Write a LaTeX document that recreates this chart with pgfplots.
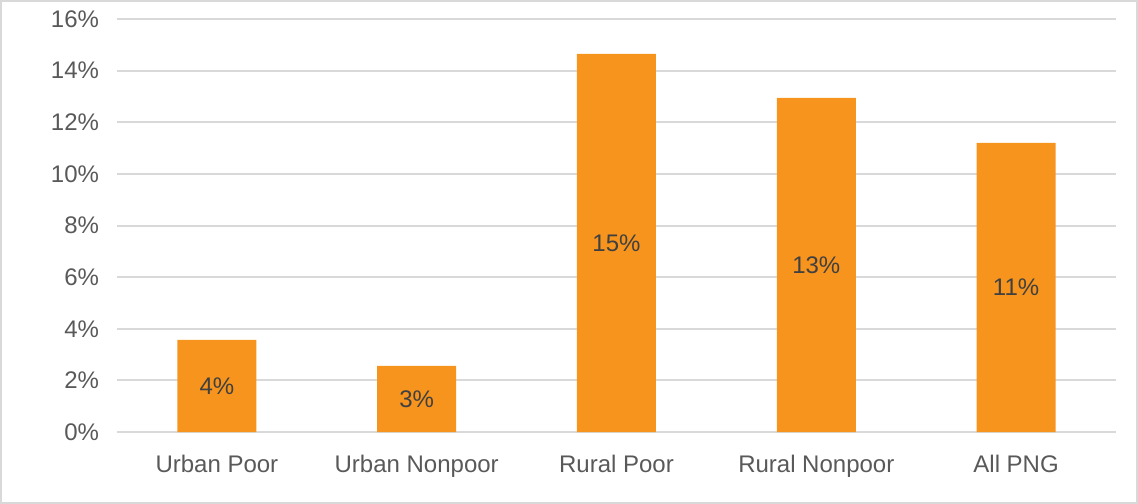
\documentclass[border=0pt]{standalone}
\usepackage{fontspec}
\setmainfont{Liberation Sans}
\usepackage{pgfplots}
\pgfplotsset{compat=1.18}
\definecolor{barorange}{HTML}{F7941D}
\definecolor{txtgray}{HTML}{595959}
\definecolor{lbldark}{HTML}{404040}
\definecolor{gridgray}{HTML}{D9D9D9}
\begin{document}
\begin{tikzpicture}
\useasboundingbox (-58.5bp,-36bp) rectangle (510.5bp,216bp);
\draw[gridgray, line width=1bp] (-58bp,-35.5bp) rectangle (510bp,215.5bp);
\begin{axis}[
  at={(0,0)}, anchor=south west,
  scale only axis, width=499.5bp, height=206.5bp,
  ybar, bar width=39.5bp,
  xmin=-0.5, xmax=4.5, ymin=0, ymax=16,
  xtick=data,
  xticklabels={Urban Poor, Urban Nonpoor, Rural Poor, Rural Nonpoor, All PNG},
  ytick={0,2,...,16},
  yticklabel={\pgfmathprintnumber{\tick}\%},
  /pgf/number format/assume math mode=true,
  tick style={draw=none},
  ymajorgrids, grid style={gridgray, line width=1bp},
  axis line style={draw=none},
  axis x line*=bottom, axis y line*=left,
  tick label style={font=\fontsize{12bp}{14bp}\selectfont, text=txtgray},
  yticklabel style={xshift=-5.5bp},
  xticklabel style={yshift=-4bp},
  nodes near coords={\pgfmathprintnumber[fixed,precision=0]{\pgfplotspointmeta}\%},
  visualization depends on=y \as \rawy,
  every node near coord/.append style={anchor=center, font=\fontsize{12bp}{14bp}\selectfont, text=lbldark, /pgf/number format/assume math mode=true, shift={(axis direction cs:0,-\rawy/2)}},
]
\addplot[fill=barorange, draw=none] coordinates {(0,3.57) (1,2.56) (2,14.65) (3,12.94) (4,11.2)};
\end{axis}
\end{tikzpicture}
\end{document}
